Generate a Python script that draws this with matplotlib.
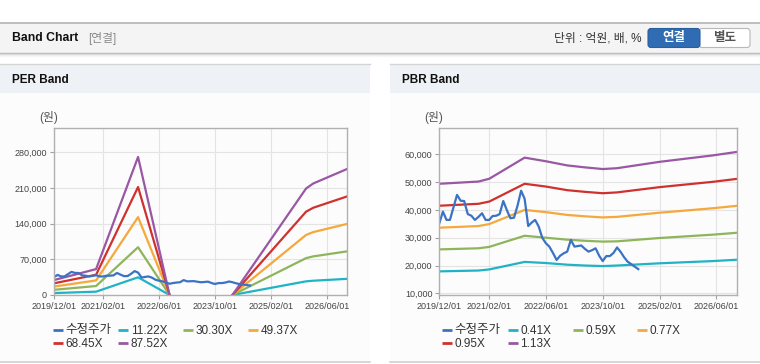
import matplotlib
matplotlib.use('Agg')
import matplotlib.pyplot as plt
import matplotlib.dates as mdates
from matplotlib.patches import Rectangle, FancyBboxPatch
from matplotlib.ticker import FuncFormatter, FixedLocator
import numpy as np
import pandas as pd

FONT = ['Liberation Sans', 'Noto Sans CJK KR', 'DejaVu Sans']
plt.rcParams['font.family'] = FONT

nan = np.nan

# ---------------- data ----------------
tick_dates = ['2019-12-01', '2021-02-01', '2022-06-01', '2023-10-01', '2025-02-01', '2026-06-01']
tick_labels = ['2019/12/01', '2021/02/01', '2022/06/01', '2023/10/01', '2025/02/01', '2026/06/01']

# adjusted share price (수정주가), monthly from 2019/12
price_values = [35200, 39400, 36400, 36400, 41000, 45400, 43300, 43200, 38500, 37900,
                36400, 37500, 38800, 36400, 36400, 37800, 37900, 38500, 43200, 40000,
                37000, 37200, 41500, 46900, 44000, 34200, 35500, 36400, 34000, 30000,
                28000, 26800, 24500, 22000, 23500, 24400, 25000, 29200, 26800, 27000,
                27200, 26000, 25000, 25500, 26200, 23500, 21600, 23400, 23400, 24500,
                26500, 25000, 23000, 21400, 20500, 19600, 18700]
price_start = '2019-12-01'

# PER band
per_dates = ['2019-12-01', '2020-12-01', '2021-12-01', '2022-09-01', '2023-06-01',
             '2024-03-01', '2025-12-01', '2026-02-01', '2026-12-01']
per_labels = ['수정주가', '11.22X', '30.30X', '49.37X', '68.45X', '87.52X']
per_11_22 = [3800, 6500, 34700, 0, nan, 0, 26800, 28000, 31800]
per_30_30 = [10200, 17600, 93700, 0, nan, 0, 72300, 75700, 85900]
per_49_37 = [16500, 28600, 152800, 0, nan, 0, 117800, 123400, 139900]
per_68_45 = [22900, 39700, 211800, 0, nan, 0, 163400, 171100, 194000]
per_87_52 = [29300, 50800, 270800, 0, nan, 0, 208900, 218700, 248000]
per_yticks = [0, 70000, 140000, 210000, 280000]

# PBR band
pbr_dates = ['2019-12-01', '2020-11-01', '2021-02-01', '2021-12-01', '2022-06-01',
             '2022-12-01', '2023-05-01', '2023-10-01', '2024-02-01', '2025-02-01',
             '2026-05-01', '2026-12-01']
pbr_labels = ['수정주가', '0.41X', '0.59X', '0.77X', '0.95X', '1.13X']
pbr_0_41 = [17900, 18200, 18600, 21300, 20900, 20300, 20000, 19800, 20000, 20800, 21600, 22100]
pbr_0_59 = [25800, 26200, 26700, 30700, 30000, 29300, 28900, 28600, 28700, 29900, 31100, 31800]
pbr_0_77 = [33600, 34200, 34900, 40000, 39200, 38200, 37700, 37300, 37500, 39000, 40600, 41500]
pbr_0_95 = [41500, 42200, 43000, 49400, 48400, 47100, 46500, 46000, 46300, 48200, 50100, 51200]
pbr_1_13 = [49400, 50200, 51200, 58800, 57500, 56000, 55300, 54700, 55000, 57300, 59600, 60900]
pbr_yticks = [10000, 20000, 30000, 40000, 50000, 60000]

colors = ['#3b73c4', '#20b3c6', '#8fb55a', '#f5a83b', '#cf322e', '#9a57a4']

# ---------------- figure ----------------
W, H = 760, 364
fig = plt.figure(figsize=(W / 100, H / 100), dpi=100)
fig.patch.set_facecolor('white')

bg = fig.add_axes([0, 0, 1, 1], zorder=-5)
bg.set_xlim(0, W)
bg.set_ylim(H, 0)
bg.axis('off')

# header bar
bg.add_patch(Rectangle((0, 22.5), W, 30, facecolor='#f4f4f4', edgecolor='none'))
bg.plot([0, W], [22.5, 22.5], color='#b4b4b4', lw=1.2)
for i, c in enumerate(['#b8b8b8', '#d8d8d8', '#ebebeb', '#f6f6f6']):
    bg.plot([0, W], [52.5 + i, 52.5 + i], color=c, lw=1)
bg.text(11.5, 38, 'Band Chart', fontsize=8.8, fontweight='bold', color='#111111',
        va='center', ha='left', family=FONT)
bg.text(88, 38.5, '[연결]', fontsize=8.5, color='#8a8a8a', va='center', ha='left', family=FONT)
bg.text(642, 38.5, '단위 : 억원, 배, %', fontsize=8.5, color='#333333', va='center', ha='right',
        family=FONT)
# buttons
bg.add_patch(FancyBboxPatch((699, 28.5), 51, 19, boxstyle='round,pad=0,rounding_size=3',
                            facecolor='white', edgecolor='#b8b8b8', lw=0.8))
bg.add_patch(FancyBboxPatch((648, 28.5), 52, 19, boxstyle='round,pad=0,rounding_size=3',
                            facecolor='#2f6cb3', edgecolor='#2a5f9e', lw=0.8))
bg.text(674, 38.5, '연결', fontsize=9, fontweight='bold', color='white', va='center', ha='center',
        family=FONT)
bg.text(724.5, 38.5, '별도', fontsize=9, fontweight='bold', color='#555555', va='center',
        ha='center', family=FONT)

# panels
for x0, x1, title in [(0, 370, 'PER Band'), (390, 760, 'PBR Band')]:
    bg.add_patch(Rectangle((x0, 93), x1 - x0, 268, facecolor='#fcfcfc', edgecolor='none'))
    bg.add_patch(Rectangle((x0, 64), x1 - x0, 29, facecolor='#eef1f6', edgecolor='none'))
    bg.plot([x0, x1], [64, 64], color='#d4d4d4', lw=1)
    bg.plot([x0, x1], [361.5, 361.5], color='#d0d0d0', lw=1.2)
    bg.text(x0 + 11.5, 80, title, fontsize=8.5, fontweight='bold', color='#111111',
            va='center', ha='left', family=FONT)

bg.text(49, 118, '(원)', fontsize=8.5, color='#555555', va='center', ha='center', family=FONT)
bg.text(434, 118, '(원)', fontsize=8.5, color='#555555', va='center', ha='center', family=FONT)


def px_axes(l, r, t, b):
    return [l / W, 1 - b / H, (r - l) / W, (b - t) / H]


def style_axes(ax, yticks, ylim):
    ax.set_facecolor('none')
    ax.set_xlim(pd.Timestamp('2019-12-01'), pd.Timestamp('2026-11-22'))
    ax.set_ylim(*ylim)
    td = pd.to_datetime(tick_dates)
    ax.xaxis.set_major_locator(FixedLocator(mdates.date2num(td)))
    ax.set_xticklabels(tick_labels)
    ax.set_yticks(yticks)
    ax.yaxis.set_major_formatter(FuncFormatter(lambda v, p: f'{int(v):,}'))
    ax.grid(True, color='#e4e4e4', lw=0.8)
    ax.set_axisbelow(True)
    for s in ax.spines.values():
        s.set_color('#b0b0b0')
        s.set_linewidth(1.0)
    ax.tick_params(axis='both', length=3, width=0.8, color='#a0a0a0', labelsize=6.5,
                   labelcolor='#444444', pad=2)
    for lab in ax.get_xticklabels() + ax.get_yticklabels():
        lab.set_family(['Liberation Sans', 'DejaVu Sans'])


def legend(x_positions, y_rows, labels):
    for i, lab in enumerate(labels):
        row = i // 4
        col = i % 4
        x = x_positions[col]
        y = y_rows[row]
        bg.plot([x, x + 10], [y, y], color=colors[i], lw=2, solid_capstyle='butt')
        is_kr = any('\uac00' <= ch <= '\ud7a3' for ch in lab)
        bg.text(x + 12.5, y + 0.5, lab, fontsize=9 if is_kr else 8.5, color='#333333',
                va='center', ha='left', family=FONT)


price_dates = pd.date_range(price_start, periods=len(price_values), freq='MS')

# PER
ax1 = fig.add_axes(px_axes(54, 347, 128.3, 295))
pdts = pd.to_datetime(per_dates)
for series, c in zip([per_11_22, per_30_30, per_49_37, per_68_45, per_87_52], colors[1:]):
    ax1.plot(pdts, series, color=c, lw=1.6)
ax1.plot(price_dates, price_values, color=colors[0], lw=1.6)
style_axes(ax1, per_yticks, (0, 327000))
legend([53.3, 118.3, 182.7, 247.7], [330, 343.3], per_labels)

# PBR
ax2 = fig.add_axes(px_axes(439.3, 736.7, 128.3, 295))
bdts = pd.to_datetime(pbr_dates)
for series, c in zip([pbr_0_41, pbr_0_59, pbr_0_77, pbr_0_95, pbr_1_13], colors[1:]):
    ax2.plot(bdts, series, color=c, lw=1.6)
ax2.plot(price_dates, price_values, color=colors[0], lw=1.6)
style_axes(ax2, pbr_yticks, (9400, 69350))
legend([442.3, 507.7, 572.7, 637.3], [330, 343.3], pbr_labels)

fig.savefig('out.png', dpi=100)
